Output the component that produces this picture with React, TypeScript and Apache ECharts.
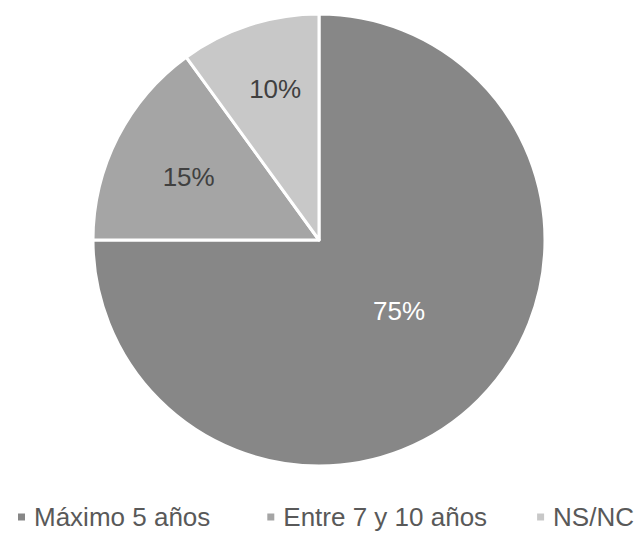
import React, { useEffect, useRef } from "react";
import * as echarts from "echarts";

const categories = ["Máximo 5 años", "Entre 7 y 10 años", "NS/NC"];
const values = [75, 15, 10];
const colors = ["#878787", "#a5a5a5", "#c8c8c8"];
const labelColors = ["#ffffff", "#404040", "#404040"];
const labelOffsets = [
  [-2, -11],
  [-27, -10],
  [-8, -41],
];
const legendRightPad = [7, 0, 0];

export default function App() {
  const ref = useRef<HTMLDivElement>(null);
  useEffect(() => {
    document.body.style.margin = "0";
    const chart = echarts.init(ref.current!, null, { renderer: "svg" });
    const legendText = {
      fontFamily: "Liberation Sans, Arial, sans-serif",
      fontSize: 26,
      lineHeight: 22,
      color: "#595959",
    };
    chart.setOption({
      animation: false,
      backgroundColor: "#ffffff",
      legend: {
        left: 11,
        top: 499,
        icon: "rect",
        itemWidth: 9,
        itemHeight: 9,
        itemGap: 48,
        textStyle: { ...legendText, padding: [0, 0, 0, 3] },
        data: categories.map((name, i) => ({
          name,
          textStyle: { ...legendText, padding: [0, legendRightPad[i], 0, 3] },
        })),
      },
      series: [
        {
          type: "pie",
          center: [319, 240],
          radius: [0, 226],
          startAngle: 90,
          clockwise: true,
          label: {
            show: true,
            position: "inside",
            formatter: "{c}%",
            fontFamily: "Liberation Sans, Arial, sans-serif",
            fontSize: 26,
          },
          labelLine: { show: false },
          labelLayout: (p: any) => ({
            dx: labelOffsets[p.dataIndex][0],
            dy: labelOffsets[p.dataIndex][1],
          }),
          itemStyle: { borderColor: "#ffffff", borderWidth: 3 },
          emphasis: { disabled: true },
          data: categories.map((name, i) => ({
            name,
            value: values[i],
            itemStyle: { color: colors[i] },
            label: { color: labelColors[i] },
          })),
        },
      ],
    });
    return () => chart.dispose();
  }, []);
  return <div ref={ref} style={{ width: 640, height: 533 }} />;
}
